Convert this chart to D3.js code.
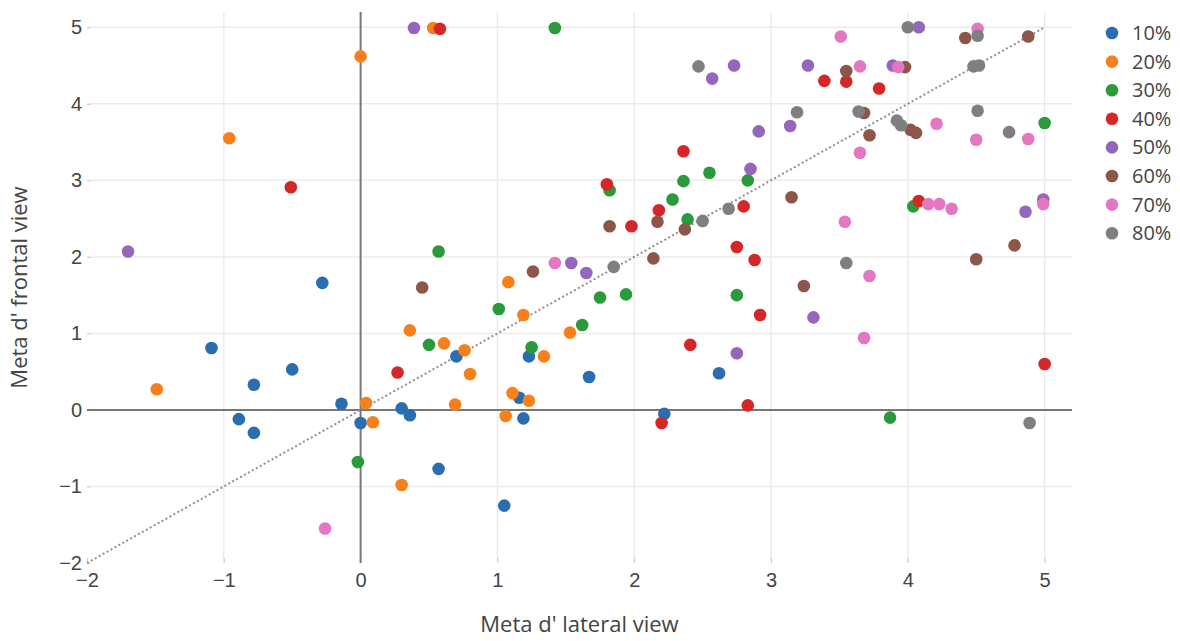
<!DOCTYPE html>
<html>
<head>
<meta charset="utf-8">
<script src="https://cdn.jsdelivr.net/npm/d3@7"></script>
<style>
  body { margin: 0; background: #fff; }
  svg { font-family: "Open Sans", "Noto Sans", sans-serif; }
</style>
</head>
<body>
<svg></svg>
<script>
const margin = {top: 12, right: 108, bottom: 78, left: 87}
const width = 1180 - margin.left - margin.right,
      height = 641 - margin.top - margin.bottom

const seriesNames = ["10%", "20%", "30%", "40%", "50%", "60%", "70%", "80%"]
const colors = ["#2a6db0", "#f7801c", "#2a9a3a", "#d62728", "#9467bd", "#8c564b", "#e377c2", "#7f7f7f"]

// [lateral, frontal] pairs per series
const s10 = [[-0.28,1.66],[-1.09,0.81],[-0.78,0.33],[-0.50,0.53],[-0.89,-0.12],[-0.78,-0.30],[-0.14,0.08],[0.00,-0.17],[0.30,0.02],[0.36,-0.07],[0.70,0.70],[1.23,0.70],[1.16,0.16],[1.19,-0.11],[1.67,0.43],[2.62,0.48],[2.22,-0.05],[0.57,-0.77],[1.05,-1.25]]
const s20 = [[-1.49,0.27],[-0.96,3.55],[0.0,4.62],[0.53,4.99],[0.04,0.09],[0.09,-0.16],[0.36,1.04],[0.61,0.87],[0.76,0.78],[0.80,0.47],[0.69,0.07],[1.08,1.67],[1.19,1.24],[1.34,0.70],[1.11,0.22],[1.23,0.12],[1.06,-0.08],[1.53,1.01],[0.30,-0.98]]
const s30 = [[1.42,4.99],[0.57,2.07],[1.01,1.32],[0.50,0.85],[1.25,0.82],[-0.02,-0.68],[1.62,1.11],[1.82,2.87],[2.36,2.99],[2.55,3.10],[2.28,2.75],[2.39,2.49],[2.83,3.00],[1.75,1.47],[1.94,1.51],[2.75,1.50],[4.04,2.66],[5.0,3.75],[3.87,-0.10]]
const s40 = [[-0.51,2.91],[0.58,4.98],[0.27,0.49],[1.80,2.95],[2.36,3.38],[1.98,2.40],[2.18,2.61],[2.80,2.66],[2.75,2.13],[2.88,1.96],[2.92,1.24],[2.41,0.85],[2.83,0.06],[2.20,-0.17],[3.39,4.30],[3.55,4.29],[3.79,4.20],[4.08,2.73],[5.0,0.60]]
const s50 = [[-1.70,2.07],[0.39,4.99],[1.54,1.92],[1.65,1.79],[2.57,4.33],[2.73,4.50],[2.91,3.64],[2.85,3.15],[2.75,0.74],[3.31,1.21],[3.27,4.50],[3.14,3.71],[4.08,5.0],[3.89,4.50],[4.86,2.59],[4.99,2.75]]
const s60 = [[0.45,1.60],[1.26,1.81],[1.82,2.40],[2.17,2.46],[2.37,2.36],[2.14,1.98],[3.15,2.78],[3.24,1.62],[4.50,1.97],[4.78,2.15],[3.72,3.59],[4.02,3.66],[4.06,3.62],[3.55,4.43],[4.42,4.86],[4.88,4.88],[3.98,4.48],[3.68,3.88]]
const s70 = [[-0.26,-1.55],[1.42,1.92],[3.51,4.88],[3.65,4.49],[3.93,4.48],[4.21,3.74],[4.50,3.53],[4.88,3.54],[3.65,3.36],[4.51,4.98],[4.15,2.69],[4.23,2.69],[4.32,2.63],[3.54,2.46],[4.99,2.69],[3.72,1.75],[3.68,0.94]]
const s80 = [[2.47,4.49],[2.50,2.47],[2.69,2.63],[1.85,1.87],[3.19,3.89],[3.64,3.90],[3.92,3.78],[3.95,3.72],[4.00,5.0],[4.48,4.49],[4.52,4.50],[4.51,4.89],[4.51,3.91],[4.74,3.63],[3.55,1.92],[4.89,-0.17]]

const allSeries = [s10, s20, s30, s40, s50, s60, s70, s80]
const xTicks = [-2, -1, 0, 1, 2, 3, 4, 5]
const yTicks = [-2, -1, 0, 1, 2, 3, 4, 5]
const diagonal = [[-2, -2], [5, 5]]

const svg = d3.select("svg")
    .attr("width", 1180)
    .attr("height", 641)
  .append("g")
    .attr("transform", `translate(${margin.left},${margin.top})`)

const x = d3.scaleLinear().domain([-2, 5.2]).range([0, width])
const y = d3.scaleLinear().domain([-2, 5.2]).range([height, 0])
const color = d3.scaleOrdinal().domain(seriesNames).range(colors)

// grid
svg.append("g").selectAll("line")
  .data(xTicks.filter(d => d !== 0 && d !== -2))
  .join("line")
    .attr("x1", d => x(d)).attr("x2", d => x(d))
    .attr("y1", 0).attr("y2", height)
    .attr("stroke", "#ececec").attr("stroke-width", 1.5)

svg.append("g").selectAll("line")
  .data(yTicks.filter(d => d !== 0 && d !== -2))
  .join("line")
    .attr("x1", 0).attr("x2", width)
    .attr("y1", d => y(d)).attr("y2", d => y(d))
    .attr("stroke", "#ececec").attr("stroke-width", 1.5)

// axes
const xAxis = svg.append("g")
    .attr("transform", `translate(0,${height})`)
    .call(d3.axisBottom(x).tickValues(xTicks).tickSize(-5).tickPadding(10).tickFormat(d3.format("")))
xAxis.select(".domain").remove()
xAxis.selectAll("line").attr("stroke", "#ccc")
xAxis.selectAll("text").attr("fill", "#444").style("font-size", "20px")

const yAxis = svg.append("g")
    .call(d3.axisLeft(y).tickValues(yTicks).tickSize(-4).tickPadding(5).tickFormat(d3.format("")))
yAxis.select(".domain").remove()
yAxis.selectAll("line").attr("stroke", "#ccc")
yAxis.selectAll("text").attr("fill", "#444").style("font-size", "20px")

// zero lines
svg.append("line")
    .attr("x1", x(0)).attr("x2", x(0)).attr("y1", 0).attr("y2", height)
    .attr("stroke", "#777").attr("stroke-width", 2)
svg.append("line")
    .attr("x1", 0).attr("x2", width).attr("y1", y(0)).attr("y2", y(0))
    .attr("stroke", "#777").attr("stroke-width", 2)

// identity line
svg.append("path")
    .datum(diagonal)
    .attr("d", d3.line().x(d => x(d[0])).y(d => y(d[1])))
    .attr("fill", "none")
    .attr("stroke", "#9a8c84")
    .attr("stroke-width", 2)
    .attr("stroke-dasharray", "2,2.5")

// points
allSeries.forEach((pts, i) => {
  svg.append("g").selectAll("circle")
    .data(pts)
    .join("circle")
      .attr("cx", d => x(d[0]))
      .attr("cy", d => y(d[1]))
      .attr("r", 6.3)
      .attr("fill", color(seriesNames[i]))
})

// axis titles
svg.append("text")
    .attr("x", width / 2).attr("y", height + 69)
    .attr("text-anchor", "middle")
    .attr("fill", "#444").style("font-size", "22px")
    .text("Meta d' lateral view")

svg.append("text")
    .attr("transform", `translate(${-60},${height / 2}) rotate(-90)`)
    .attr("text-anchor", "middle")
    .attr("fill", "#444").style("font-size", "22px")
    .text("Meta d' frontal view")

// legend
const legend = svg.append("g")
    .attr("transform", `translate(${1112 - margin.left},${33 - margin.top})`)
const items = legend.selectAll("g")
  .data(seriesNames)
  .join("g")
    .attr("transform", (d, i) => `translate(0,${i * 28.6})`)
items.append("circle").attr("r", 6.3).attr("fill", d => color(d))
items.append("text")
    .attr("x", 20).attr("dy", "0.35em")
    .attr("fill", "#444").style("font-size", "20px")
    .text(d => d)
</script>
</body>
</html>
